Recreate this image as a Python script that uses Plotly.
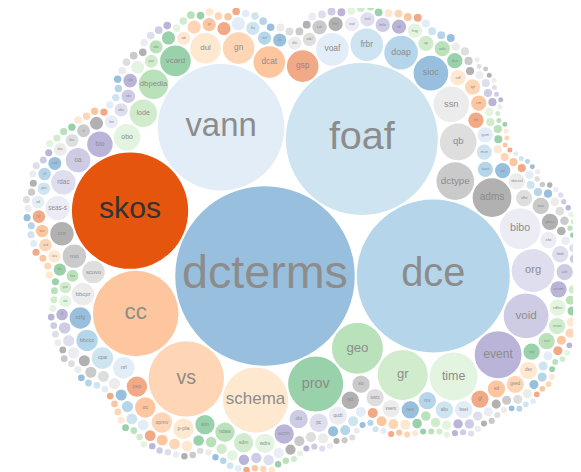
import math
import plotly.graph_objects as go

# ---------------- data (sorted by value, descending) ----------------
names_core = ["dcterms", "dce", "foaf", "vann", "skos", "cc", "vs", "schema", "prov", "geo",
              "gr", "time", "event", "void", "org", "bibo", "adms", "dctype", "qb", "ssn",
              "sioc", "doap", "frbr", "voaf", "gsp", "dcat", "gn", "dul", "vcard", "dbpedia",
              "lode", "obo", "bio"]
values_core = [7744, 5625, 5550, 3844, 3249, 1764, 1369, 1024, 729, 625,
               600, 552, 529, 484, 441, 400, 361, 342, 324, 306,
               289, 272, 256, 256, 240, 240, 240, 225, 225, 210,
               182, 169, 156]

names_ring2 = ["oa", "rdac", "seas-s", "cnr", "mo", "scovo", "bbcpr", "rdfg", "bbccc", "cpa",
               "nrl", "pep", "oc", "opmv", "p-pla", "sim", "ndaw", "sdm", "wdrs", "ecrm",
               "olo", "pc", "qudt", "rsd", "sio", "swrc", "vsem", "neo", "rov", "alto",
               "bset", "gf", "ed", "gsed", "dsv", "sto", "nsl", "vsso", "rdfes", "ocsm",
               "akt", "lmb", "sfo", "pbcc", "oav", "sfhr", "skosxl", "ad", "taxo", "msn",
               "gsm", "tm", "cm", "tgf", "cdl", "dca", "wiki", "sp", "hsg", "ldl",
               "lmkr", "lnsl", "owl", "lhrn", "cdr", "sdcl", "dlo", "lst", "mrl", "fta",
               "", "", "gf", "", "aib"]
values_ring2 = [144, 144, 144, 132, 132, 121, 121, 110, 110, 110,
                110, 100, 100, 100, 100, 90, 90, 90, 90, 90,
                81, 81, 81, 72, 72, 72, 72, 72, 72, 72,
                72, 72, 72, 72, 72, 64, 64, 64, 64, 64,
                64, 64, 64, 64, 64, 64, 64, 56, 56, 56,
                56, 56, 56, 56, 56, 56, 56, 56, 49, 49,
                49, 49, 49, 49, 49, 42, 42, 42, 42, 42,
                42, 42, 42, 42, 42]

names_ring3 = ["", "obs", "pav", "", "rda", "rdo", "obs", "foo", "", "sl",
               "bsc", "doc", "ssd", "stl", "pen", "od", "gr", "bse", "vcd", "oca",
               "sfc", "ltwr", "gsn", "aw", "fl"]
values_ring3 = [42, 42, 40, 40, 45, 45, 42, 42, 40, 40,
                40, 40, 40, 38, 38, 38, 38, 38, 38, 36,
                36, 34, 32, 34, 32, 32, 30, 30, 30, 30,
                30, 30, 30, 30, 28, 28, 28, 28, 28, 28,
                27, 27, 26, 26, 26, 26, 26, 25, 25, 25,
                25, 25, 25, 24, 24, 24, 24, 24, 24, 24,
                22, 22, 22, 21, 21, 21, 21, 20, 20, 20,
                20, 20, 20, 20, 20, 20, 20, 20, 20, 20,
                19, 19, 19, 19, 19, 19, 18, 18, 18, 18,
                18, 18]
values_ring4 = [16, 16, 16, 16, 16, 16, 16, 16, 16, 16,
                16, 16, 16, 16, 16, 16, 16, 16, 16, 16,
                15, 15, 15, 15, 15, 15, 15, 15, 15, 15,
                15, 15, 15, 15, 15, 15, 15, 15, 15, 15,
                14, 14, 14, 14, 14, 14, 14, 14, 14, 14,
                14, 14, 14, 14, 14, 14, 14, 14, 14, 14,
                13, 13, 13, 13, 13, 13, 13, 13, 13, 13,
                12, 12, 12, 12, 12, 12, 12, 12, 12, 12,
                12, 12, 12, 12, 12, 12, 12, 12, 12, 12,
                11, 11, 11, 11, 11, 11, 11, 11, 11, 11,
                11, 11, 11, 11, 11, 11, 11, 11, 11, 11,
                10, 10, 10, 10, 10, 10, 10, 10, 10, 10,
                10, 10, 10, 10, 10, 10, 10, 10, 10, 10,
                9, 9, 9, 9, 9, 9, 9, 9, 9, 9,
                9, 9, 9, 9, 9, 9, 9, 9, 9, 9,
                9, 9, 9, 9, 9, 9, 9, 9, 9, 9,
                8, 8, 8, 8, 8, 8, 8, 8, 8, 8,
                8, 8, 8, 8, 8, 8, 8, 8, 8, 8,
                7, 7, 7, 7, 7, 7, 7, 7, 7, 7,
                7, 7, 7, 7, 7, 7, 7, 7, 7, 7,
                6, 6, 6, 6, 6, 6, 6, 6, 6, 6,
                6, 6, 6, 6, 6, 6, 6, 6, 6, 6]

values = values_core + values_ring2 + values_ring3 + values_ring4
names = names_core + names_ring2 + names_ring3
names = names + [""] * (len(values) - len(names))

HIGHLIGHT = "skos"
PALETTE = ["#3182bd", "#6baed6", "#9ecae1", "#c6dbef", "#e6550d", "#fd8d3c", "#fdae6b", "#fdd0a2",
           "#31a354", "#74c476", "#a1d99b", "#c7e9c0", "#756bb1", "#9e9ac8", "#bcbddc", "#dadaeb",
           "#636363", "#969696", "#bdbdbd", "#d9d9d9"]

# ---------------- d3 v3 pack (siblings) ----------------
class Node:
    __slots__ = ("x", "y", "r", "nx", "pv")
    def __init__(self, r):
        self.x = 0.0; self.y = 0.0; self.r = r
        self.nx = self; self.pv = self

def place(a, b, c):
    db = a.r + c.r
    dx = b.x - a.x
    dy = b.y - a.y
    if db and (dx or dy):
        da = b.r + c.r
        dc = dx * dx + dy * dy
        da *= da
        db *= db
        x = 0.5 + (db - da) / (2 * dc)
        t = 2 * da * (db + dc)
        db2 = db - dc
        y = math.sqrt(max(0.0, t - db2 * db2 - da * da)) / (2 * dc)
        c.x = a.x + x * dx + y * dy
        c.y = a.y + x * dy - y * dx
    else:
        c.x = a.x + db
        c.y = a.y

def intersects(a, b):
    dx = b.x - a.x; dy = b.y - a.y; dr = a.r + b.r
    return 0.999 * dr * dr > dx * dx + dy * dy

def insert(a, b):
    c = a.nx
    a.nx = b; b.pv = a; b.nx = c; c.pv = b

def splice(a, b):
    a.nx = b; b.pv = a

def pack_siblings(nodes):
    n = len(nodes)
    a = nodes[0]; a.x = -a.r; a.y = 0.0
    b = nodes[1]; b.x = b.r; b.y = 0.0
    c = nodes[2]
    place(a, b, c)
    insert(a, c)
    a.pv = c
    insert(c, b)
    b = a.nx
    i = 3
    guard = 0
    while i < n:
        guard += 1
        if guard > 200000:
            break
        c = nodes[i]
        place(a, b, c)
        isect = False
        s1 = 1; s2 = 1
        j = b.nx
        while j is not b:
            if intersects(j, c):
                isect = True
                break
            j = j.nx; s1 += 1
        if isect:
            k = a.pv
            while k is not j.pv:
                if intersects(k, c):
                    break
                k = k.pv; s2 += 1
            if s1 < s2 or (s1 == s2 and b.r < a.r):
                b = j
                splice(a, b)
            else:
                a = k
                splice(a, b)
        else:
            insert(a, c)
            b = c
            i += 1

PAD = 1.0
radii = [math.sqrt(v) for v in values]
nodes = [Node(r + PAD) for r in radii]
pack_siblings(nodes)

# ---------------- figure ----------------
def blend(hexc, alpha):
    h = hexc.lstrip("#")
    r, g, b = int(h[0:2], 16), int(h[2:4], 16), int(h[4:6], 16)
    f = lambda v: int(round(v * alpha + 255 * (1 - alpha)))
    return "#%02x%02x%02x" % (f(r), f(g), f(b))

W, H = 581, 472
K = 1.02                        # pixels per layout unit
# the page body adds an 8px offset, so anchor the largest bubble 8px up/left
ANCHOR_X, ANCHOR_Y = 257, 268
x0 = nodes[0].x - ANCHOR_X / K
y0 = nodes[0].y - ANCHOR_Y / K

shapes = []
tx, ty, tt, ts, tc = [], [], [], [], []
for idx, (nd, r, nm) in enumerate(zip(nodes, radii, names)):
    base = PALETTE[idx % 20]
    hl = (nm == HIGHLIGHT)
    fill = base if hl else blend(base, 0.5)
    shapes.append(dict(type="circle", xref="x", yref="y",
                       x0=nd.x - r, x1=nd.x + r, y0=nd.y - r, y1=nd.y + r,
                       fillcolor=fill, line=dict(width=0), layer="below"))
    if nm:
        tx.append(nd.x); ty.append(nd.y); tt.append(nm)
        ts.append(max(1.0, r * 0.52 * K))
        tc.append("#333333" if hl else "#8c8c8c")

fig = go.Figure()
fig.add_trace(go.Scatter(x=tx, y=ty, text=tt, mode="text",
                         textposition="middle center",
                         textfont=dict(size=ts, color=tc,
                                       family="Liberation Sans, Arial, sans-serif"),
                         hoverinfo="text", showlegend=False))
fig.update_layout(
    width=W, height=H, margin=dict(l=0, r=0, t=0, b=0),
    paper_bgcolor="white", plot_bgcolor="white",
    shapes=shapes, showlegend=False,
    xaxis=dict(range=[x0, x0 + W / K], visible=False, fixedrange=True),
    yaxis=dict(range=[y0 + H / K, y0], visible=False, fixedrange=True),
)
fig.write_html("out.html")
